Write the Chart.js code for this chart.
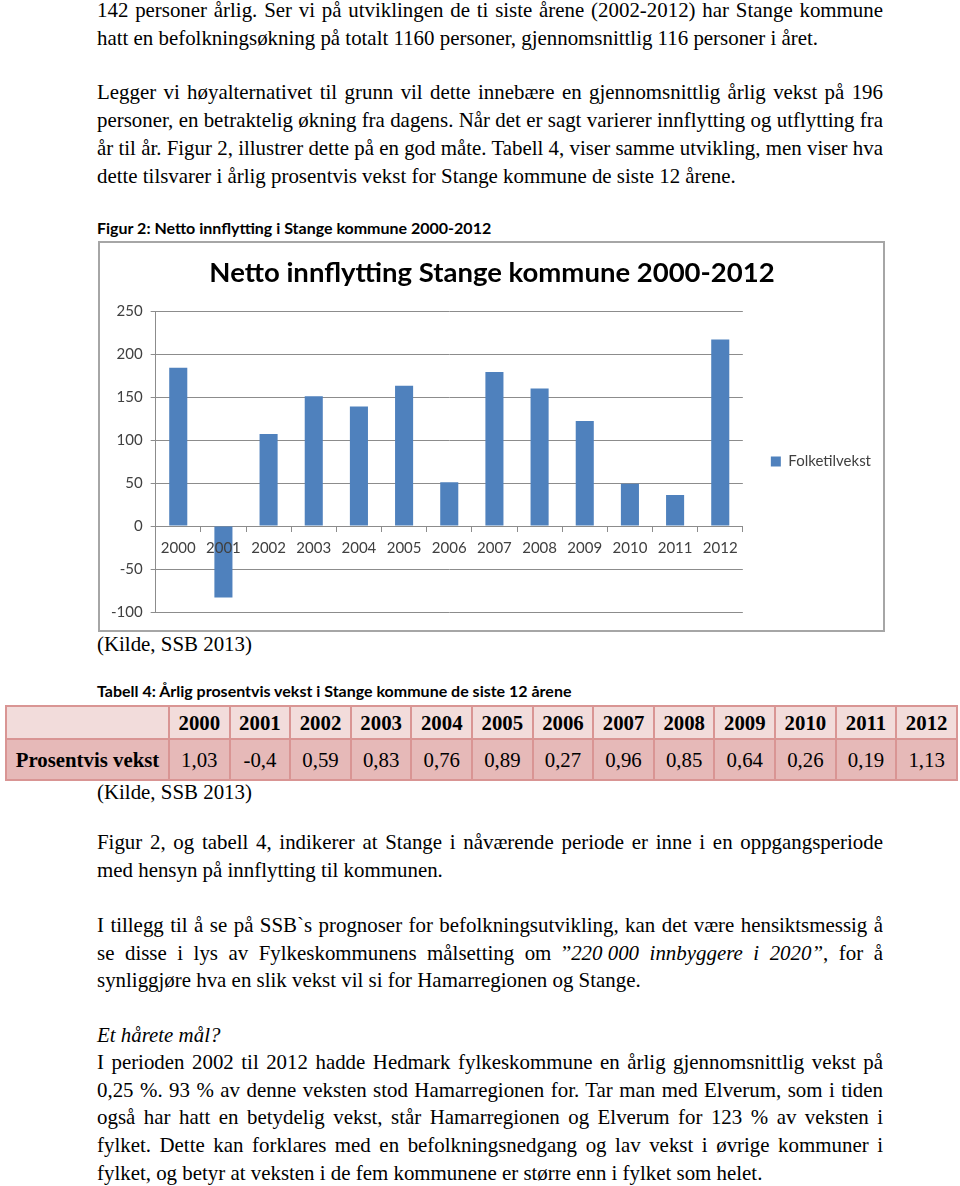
<!DOCTYPE html>
<html>
<head>
<meta charset="utf-8">
<script src="https://cdn.jsdelivr.net/npm/chart.js@4/dist/chart.umd.min.js"></script>
<style>
  html, body { margin: 0; padding: 0; background: #fff; }
  body { width: 960px; height: 1186px; position: relative; overflow: hidden;
         font-family: "Liberation Serif", "Times New Roman", serif; font-size: 20.9px; color: #000; }
  .ln { position: absolute; left: 97px; width: 786px; line-height: 28px; white-space: nowrap; }
  .j { text-align: justify; text-align-last: justify; white-space: normal; }
  .ib { display: inline-block; }
  .cap { position: absolute; left: 97px; font-family: "Lato", "Open Sans", sans-serif; font-weight: bold; font-size: 16px; line-height: 20px; }
  #box { position: absolute; left: 98px; top: 241px; width: 787px; height: 391px; box-sizing: border-box;
         border: 2px solid #a6a6a6; }
  #box canvas { display: block; }
  table { position: absolute; left: 5px; top: 705px; width: 953px; border-collapse: collapse; table-layout: fixed; }
  td { border: 2px solid #d99594; text-align: center; padding: 0; font-size: 20.8px; }
  tr.h td { background: #f2dcdb; height: 31px; font-weight: bold; }
  tr.d td { background: #e6b9b8; height: 39px; }
  tr.d td.first { font-weight: bold; }
</style>
</head>
<body>
<div class="ln j" style="top:-4px">142 personer årlig. Ser vi på utviklingen de ti siste årene (2002-2012) har Stange kommune</div>
<div class="ln" style="top:24px">hatt en befolkningsøkning på totalt 1160 personer, gjennomsnittlig 116 personer i året.</div>
<div class="ln j" style="top:78px">Legger vi høyalternativet til grunn vil dette innebære en gjennomsnittlig årlig vekst på 196</div>
<div class="ln j" style="top:106px">personer, en betraktelig økning fra dagens. Når det er sagt varierer innflytting og utflytting fra</div>
<div class="ln j" style="top:134px">år til år. Figur 2, illustrer dette på en god måte. Tabell 4, viser samme utvikling, men viser hva</div>
<div class="ln" style="top:162px">dette tilsvarer i årlig prosentvis vekst for Stange kommune de siste 12 årene.</div>

<div class="cap" style="top:218px">Figur 2: Netto innflytting i Stange kommune 2000-2012</div>
<div id="box"><canvas id="c" width="783" height="387"></canvas></div>
<div class="ln" style="top:630px">(Kilde, SSB 2013)</div>

<div class="cap" style="top:681px">Tabell 4: Årlig prosentvis vekst i Stange kommune de siste 12 årene</div>
<table id="tbl"></table>
<div class="ln" style="top:778px">(Kilde, SSB 2013)</div>

<div class="ln j" style="top:828px">Figur 2, og tabell 4, indikerer at Stange i nåværende periode er inne i en oppgangsperiode</div>
<div class="ln" style="top:856px">med hensyn på innflytting til kommunen.</div>
<div class="ln j" style="top:911px">I tillegg til å se på SSB`s prognoser for befolkningsutvikling, kan det være hensiktsmessig å</div>
<div class="ln j" style="top:939px">se disse i lys av Fylkeskommunens målsetting om ”<i><span class="ib">220 000</span> innbyggere i 2020”</i>, for å</div>
<div class="ln" style="top:966px">synliggjøre hva en slik vekst vil si for Hamarregionen og Stange.</div>
<div class="ln" style="top:1021px"><i>Et hårete mål?</i></div>
<div class="ln j" style="top:1048px">I perioden 2002 til 2012 hadde Hedmark fylkeskommune en årlig gjennomsnittlig vekst på</div>
<div class="ln j" style="top:1076px">0,25 %. 93 % av denne veksten stod Hamarregionen for. Tar man med Elverum, som i tiden</div>
<div class="ln j" style="top:1103px">også har hatt en betydelig vekst, står Hamarregionen og Elverum for 123 % av veksten i</div>
<div class="ln j" style="top:1131px">fylket. Dette kan forklares med en befolkningsnedgang og lav vekst i øvrige kommuner i</div>
<div class="ln" style="top:1159px">fylket, og betyr at veksten i de fem kommunene er større enn i fylket som helet.</div>

<script>
// ---- data ----
const years = ['2000','2001','2002','2003','2004','2005','2006','2007','2008','2009','2010','2011','2012'];
const nettoInnflytting = [184, -83, 107, 151, 139, 163, 51, 179, 160, 122, 49, 36, 217];
const seriesName = 'Folketilvekst';
const chartTitle = 'Netto innflytting Stange kommune 2000-2012';
const yMin = -100, yMax = 250, yStep = 50;
const tableRowLabel = 'Prosentvis vekst';
const prosentvisVekst = ['1,03','-0,4','0,59','0,83','0,76','0,89','0,27','0,96','0,85','0,64','0,26','0,19','1,13'];

// ---- table ----
const tbl = document.getElementById('tbl');
let html = '<colgroup><col style="width:163px">' + years.map(() => '<col>').join('') + '</colgroup>';
html += '<tr class="h"><td></td>' + years.map(y => '<td>' + y + '</td>').join('') + '</tr>';
html += '<tr class="d"><td class="first">' + tableRowLabel + '</td>' + prosentvisVekst.map(v => '<td>' + v + '</td>').join('') + '</tr>';
tbl.innerHTML = html;

// ---- chart ----
const gridColor = '#8c8c8c';
const tickFont = { family: 'Lato, "Open Sans", sans-serif', size: 15 };
new Chart(document.getElementById('c'), {
  type: 'bar',
  data: {
    labels: years,
    datasets: [{
      label: seriesName,
      data: nettoInnflytting,
      backgroundColor: '#4f81bd',
      borderWidth: 0,
      categoryPercentage: 1,
      barPercentage: 0.4
    }]
  },
  options: {
    responsive: false,
    animation: false,
    devicePixelRatio: 1,
    layout: { padding: { left: 3, right: 2, top: 0, bottom: 18 } },
    plugins: {
      title: {
        display: true,
        text: chartTitle,
        color: '#000',
        font: { family: 'Lato, "Open Sans", sans-serif', size: 27.5, weight: 'bold' },
        padding: { top: 14, bottom: 21 }
      },
      legend: {
        position: 'right',
        fullSize: false,
        labels: {
          boxWidth: 10, boxHeight: 10, padding: 28,
          color: '#404040',
          font: tickFont
        }
      },
      tooltip: { enabled: false }
    },
    scales: {
      x: {
        position: { y: 0 },
        grid: { drawOnChartArea: false, drawTicks: true, tickLength: 5, offset: true, color: gridColor },
        border: { display: true, color: gridColor },
        ticks: { z: 1, color: '#404040', font: tickFont, padding: 8, maxRotation: 0, autoSkip: false }
      },
      y: {
        min: yMin, max: yMax,
        grid: { color: gridColor, tickLength: 5 },
        border: { display: true, color: gridColor },
        ticks: { stepSize: yStep, color: '#404040', font: tickFont, padding: 8 }
      }
    }
  }
});
</script>
</body>
</html>
